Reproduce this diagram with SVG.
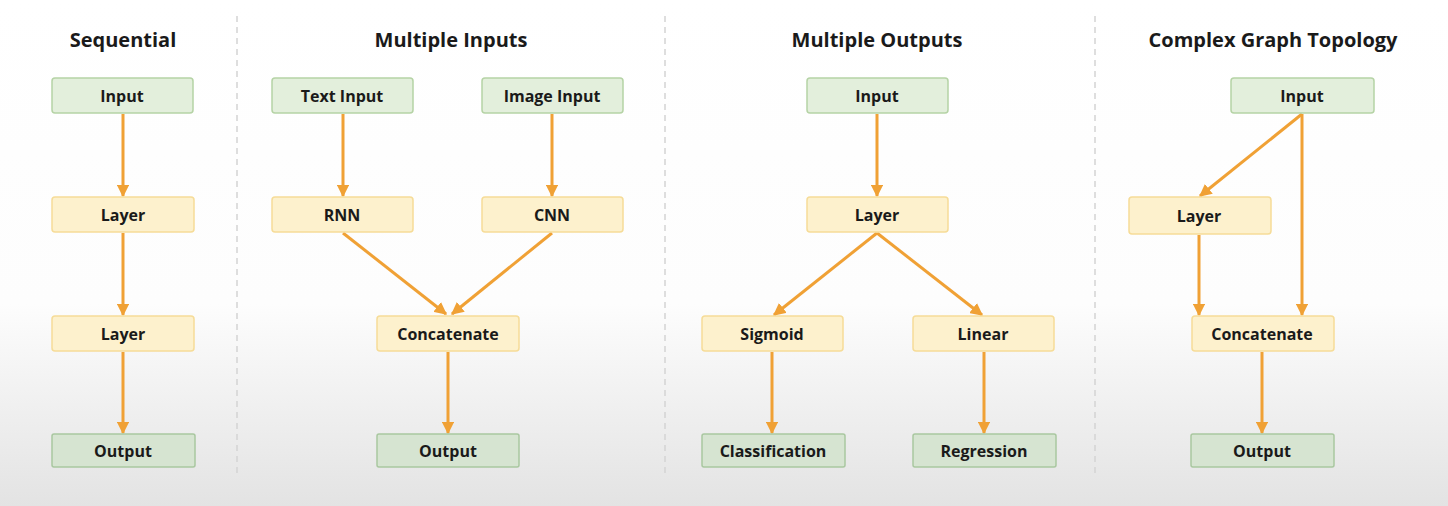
<svg xmlns="http://www.w3.org/2000/svg" width="1448" height="506" viewBox="0 0 1448 506">
<defs>
<linearGradient id="bg" x1="0" y1="0" x2="0" y2="1">
<stop offset="0" stop-color="#ffffff"/>
<stop offset="0.6" stop-color="#fdfdfd"/>
<stop offset="1" stop-color="#e3e3e3"/>
</linearGradient>
<marker id="ah" viewBox="0 0 10 10" refX="9" refY="5" markerWidth="4.2" markerHeight="4.2" markerUnits="strokeWidth" orient="auto">
<path d="M0,0 L10,5 L0,10 z" fill="#f0a135"/>
</marker>
</defs>
<style>
.title{font-family:"Open Sans","Liberation Sans",sans-serif;font-weight:bold;font-size:20px;fill:#1a1a1a;text-anchor:middle}
.lbl{font-family:"Open Sans","Liberation Sans",sans-serif;font-weight:bold;font-size:16px;fill:#1a1a1a;text-anchor:middle;dominant-baseline:central}
.in{fill:#e3efdc;stroke:#b5d3a5;stroke-width:1.5}
.ly{fill:#fdf1cd;stroke:#f6dc98;stroke-width:1.5}
.out{fill:#d6e4d1;stroke:#a9c7a0;stroke-width:1.5}
.div{stroke:#d4d4d4;stroke-width:1.5;stroke-dasharray:6,5;fill:none}
.arr{stroke:#f0a135;stroke-width:3;fill:none;marker-end:url(#ah)}
</style>
<rect x="0" y="0" width="1448" height="506" fill="url(#bg)"/>
<g id="dividers">
<line class="div" x1="237" y1="16" x2="237" y2="478"/>
<line class="div" x1="665" y1="16" x2="665" y2="478"/>
<line class="div" x1="1095" y1="16" x2="1095" y2="478"/>
</g>
<g id="titles">
<text class="title" x="123" y="47">Sequential</text>
<text class="title" x="451" y="47">Multiple Inputs</text>
<text class="title" x="877" y="47">Multiple Outputs</text>
<text class="title" x="1273" y="47">Complex Graph Topology</text>
</g>
<g id="connectors">
<line class="arr" x1="123" y1="114" x2="123" y2="196"/>
<line class="arr" x1="123" y1="233" x2="123" y2="315"/>
<line class="arr" x1="123" y1="352" x2="123" y2="433"/>
<line class="arr" x1="343" y1="114" x2="343" y2="196"/>
<line class="arr" x1="552" y1="114" x2="552" y2="196"/>
<line class="arr" x1="343" y1="233" x2="446" y2="314"/>
<line class="arr" x1="552" y1="233" x2="452" y2="314"/>
<line class="arr" x1="448" y1="352" x2="448" y2="433"/>
<line class="arr" x1="877" y1="114" x2="877" y2="196"/>
<line class="arr" x1="877" y1="233" x2="774" y2="315"/>
<line class="arr" x1="877" y1="233" x2="982" y2="315"/>
<line class="arr" x1="772" y1="352" x2="772" y2="433"/>
<line class="arr" x1="984" y1="352" x2="984" y2="433"/>
<line class="arr" x1="1302" y1="114" x2="1200" y2="196"/>
<line class="arr" x1="1302" y1="114" x2="1302" y2="315"/>
<line class="arr" x1="1199" y1="235" x2="1199" y2="315"/>
<line class="arr" x1="1262" y1="352" x2="1262" y2="433"/>
</g>
<g id="seq-input"><rect class="in" x="52" y="78" width="141" height="35" rx="3"/><text class="lbl" x="122" y="96">Input</text></g>
<g id="seq-layer1"><rect class="ly" x="52" y="197" width="142" height="35" rx="3"/><text class="lbl" x="123" y="215">Layer</text></g>
<g id="seq-layer2"><rect class="ly" x="52" y="316" width="142" height="35" rx="3"/><text class="lbl" x="123" y="334">Layer</text></g>
<g id="seq-output"><rect class="out" x="52" y="434" width="143" height="33" rx="2"/><text class="lbl" x="123" y="451">Output</text></g>
<g id="mi-text"><rect class="in" x="272" y="78" width="141" height="35" rx="3"/><text class="lbl" x="342" y="96">Text Input</text></g>
<g id="mi-image"><rect class="in" x="482" y="78" width="141" height="35" rx="3"/><text class="lbl" x="552" y="96">Image Input</text></g>
<g id="mi-rnn"><rect class="ly" x="272" y="197" width="141" height="35" rx="3"/><text class="lbl" x="342" y="215">RNN</text></g>
<g id="mi-cnn"><rect class="ly" x="482" y="197" width="141" height="35" rx="3"/><text class="lbl" x="552" y="215">CNN</text></g>
<g id="mi-concat"><rect class="ly" x="377" y="316" width="142" height="35" rx="3"/><text class="lbl" x="448" y="334">Concatenate</text></g>
<g id="mi-output"><rect class="out" x="377" y="434" width="142" height="33" rx="2"/><text class="lbl" x="448" y="451">Output</text></g>
<g id="mo-input"><rect class="in" x="807" y="78" width="141" height="35" rx="3"/><text class="lbl" x="877" y="96">Input</text></g>
<g id="mo-layer"><rect class="ly" x="807" y="197" width="141" height="35" rx="3"/><text class="lbl" x="877" y="215">Layer</text></g>
<g id="mo-sigmoid"><rect class="ly" x="702" y="316" width="141" height="35" rx="3"/><text class="lbl" x="772" y="334">Sigmoid</text></g>
<g id="mo-linear"><rect class="ly" x="913" y="316" width="141" height="35" rx="3"/><text class="lbl" x="983" y="334">Linear</text></g>
<g id="mo-class"><rect class="out" x="702" y="434" width="143" height="33" rx="2"/><text class="lbl" x="773" y="451">Classification</text></g>
<g id="mo-reg"><rect class="out" x="913" y="434" width="143" height="33" rx="2"/><text class="lbl" x="984" y="451">Regression</text></g>
<g id="cg-input"><rect class="in" x="1231" y="78" width="143" height="35" rx="3"/><text class="lbl" x="1302" y="96">Input</text></g>
<g id="cg-layer"><rect class="ly" x="1129" y="197" width="142" height="37" rx="3"/><text class="lbl" x="1199" y="216">Layer</text></g>
<g id="cg-concat"><rect class="ly" x="1192" y="316" width="142" height="35" rx="3"/><text class="lbl" x="1262" y="334">Concatenate</text></g>
<g id="cg-output"><rect class="out" x="1191" y="434" width="143" height="33" rx="2"/><text class="lbl" x="1262" y="451">Output</text></g>
</svg>
